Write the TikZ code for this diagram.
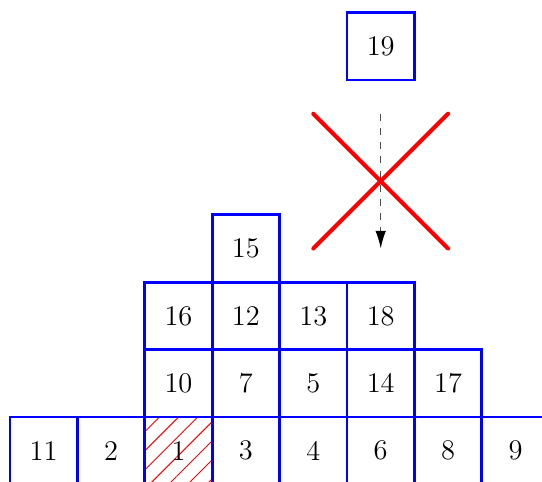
\documentclass[tikz,border=0pt]{standalone}
\usetikzlibrary{patterns.meta,arrows.meta}
\begin{document}
\begin{tikzpicture}[
  cell/.style={draw=blue, line width=1.2pt, minimum size=1cm, inner sep=0pt, font=\large},
  hatched/.style={pattern={Lines[angle=45,distance=5.7pt,line width=0.4pt]}, pattern color=red},
  cross/.style={draw=red, line width=1.7pt, line cap=round},
  fall/.style={draw=black!70, dashed, line width=0.6pt, -{Latex[length=7.5pt,width=4.5pt,black]}}
]
\useasboundingbox (-0.148,-0.95) rectangle (7.893,6.187);
\clip (-0.148,-0.95) rectangle (7.893,6.187);
% bottom row
\node[cell] (c11) at (0.5,-0.5) {11};
\node[cell] (c2)  at (1.5,-0.5) {2};
\node[cell,hatched] (c1) at (2.5,-0.5) {1};
\node[cell] (c3)  at (3.5,-0.5) {3};
\node[cell] (c4)  at (4.5,-0.5) {4};
\node[cell] (c6)  at (5.5,-0.5) {6};
\node[cell] (c8)  at (6.5,-0.5) {8};
\node[cell] (c9)  at (7.5,-0.5) {9};
% second row
\node[cell] (c10) at (2.5,0.5) {10};
\node[cell] (c7)  at (3.5,0.5) {7};
\node[cell] (c5)  at (4.5,0.5) {5};
\node[cell] (c14) at (5.5,0.5) {14};
\node[cell] (c17) at (6.5,0.5) {17};
% third row
\node[cell] (c16) at (2.5,1.5) {16};
\node[cell] (c12) at (3.5,1.5) {12};
\node[cell] (c13) at (4.5,1.5) {13};
\node[cell] (c18) at (5.5,1.5) {18};
% fourth row
\node[cell] (c15) at (3.5,2.5) {15};
% falling block
\node[cell] (c19) at (5.5,5.5) {19};
% cross
\coordinate (xa) at (4.5,4.5);
\coordinate (xb) at (6.5,2.5);
\coordinate (xc) at (6.5,4.5);
\coordinate (xd) at (4.5,2.5);
\draw[cross] (xa) -- (xb);
\draw[cross] (xc) -- (xd);
% arrow
\coordinate (as) at (5.5,4.5);
\coordinate (ae) at (5.5,2.5);
\draw[fall] (as) -- (ae);
\end{tikzpicture}
\end{document}
